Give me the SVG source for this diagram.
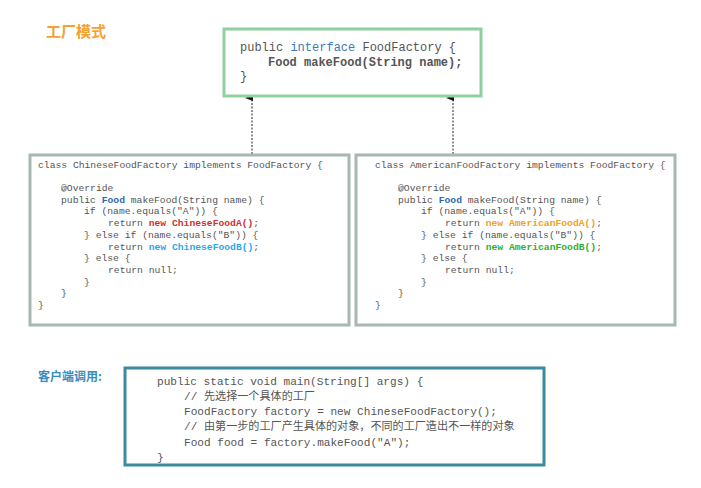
<svg xmlns="http://www.w3.org/2000/svg" width="701" height="488" viewBox="0 0 701 488">
<style>
.m{font-family:"Liberation Mono","Noto Sans CJK SC",monospace;fill:#555}
.s{font-size:9.7px}
.b{font-weight:bold}
.cj{font-family:"Noto Sans CJK SC",sans-serif;font-weight:bold}
</style>
<defs><marker id="ar" markerWidth="8" markerHeight="8" refX="4" refY="7" orient="auto" markerUnits="userSpaceOnUse"><path d="M1,8 L4,0 L7,8 Z" fill="#111"/></marker></defs>
<rect width="701" height="488" fill="#fff"/>
<text x="46" y="37" class="cj" font-size="15" fill="#f7a030">工厂模式</text>
<text x="38" y="381" class="cj" font-size="12" fill="#3a8cc0">客户端调用:</text>
<g id="connectors" stroke="#222" stroke-width="1" stroke-dasharray="2,1.5">
<line x1="252" y1="154" x2="252" y2="98" marker-end="url(#ar)"/>
<line x1="453" y1="154" x2="453" y2="98" marker-end="url(#ar)"/>
</g>
<g id="interface">
<rect x="224" y="29" width="257" height="67" fill="#fff" stroke="#8fd19e" stroke-width="3"/>
<text class="m" font-size="12" x="240" y="51">public <tspan fill="#3a7ab8">interface</tspan> FoodFactory {</text>
<text class="m b" font-size="12" x="268" y="66" fill="#e53030">Food makeFood(String name);</text>
<text class="m" font-size="12" x="240" y="80">}</text>
</g>
<g id="chinese">
<rect x="30" y="155" width="319" height="170" fill="#fff" stroke="#a7b8b4" stroke-width="3"/>
<g class="m s">
<text x="38" y="168">class ChineseFoodFactory implements FoodFactory {</text>
<text x="61" y="191">@Override</text>
<text x="61" y="203">public <tspan fill="#2a6ab0" font-weight="bold">Food</tspan> makeFood(String name) {</text>
<text x="84" y="214">if (name.equals("A")) {</text>
<text x="108" y="226">return <tspan fill="#d03030" font-weight="bold">new ChineseFoodA()</tspan>;</text>
<text x="84" y="238">} else if (name.equals("B")) {</text>
<text x="108" y="250">return <tspan fill="#2aa8f0" font-weight="bold">new ChineseFoodB()</tspan>;</text>
<text x="84" y="261">} else {</text>
<text x="108" y="273">return null;</text>
<text x="84" y="285">}</text>
<text x="61" y="296">}</text>
<text x="38" y="308">}</text>
</g>
</g>
<g id="american">
<rect x="356" y="155" width="319" height="170" fill="#fff" stroke="#a7b8b4" stroke-width="3"/>
<g class="m s">
<text x="375" y="168">class AmericanFoodFactory implements FoodFactory {</text>
<text x="398" y="191">@Override</text>
<text x="398" y="203">public <tspan fill="#2a6ab0" font-weight="bold">Food</tspan> makeFood(String name) {</text>
<text x="421" y="214">if (name.equals("A")) {</text>
<text x="445" y="226">return <tspan fill="#f5a020" font-weight="bold">new AmericanFoodA()</tspan>;</text>
<text x="421" y="238">} else if (name.equals("B")) {</text>
<text x="445" y="250">return <tspan fill="#30b030" font-weight="bold">new AmericanFoodB()</tspan>;</text>
<text x="421" y="261">} else {</text>
<text x="445" y="273">return null;</text>
<text x="421" y="285">}</text>
<text x="398" y="296">}</text>
<text x="375" y="308">}</text>
</g>
</g>
<g id="client">
<rect x="125" y="368" width="419" height="97" fill="#fff" stroke="#3a8aa0" stroke-width="3"/>
<g class="m" font-size="11.1">
<text x="157" y="385">public static void main(String[] args) {</text>
<text x="184" y="400">// 先选择一个具体的工厂</text>
<text x="184" y="415">FoodFactory factory = new ChineseFoodFactory();</text>
<text x="184" y="430">// 由第一步的工厂产生具体的对象，不同的工厂造出不一样的对象</text>
<text x="184" y="446">Food food = factory.makeFood("A");</text>
<text x="157" y="461">}</text>
</g>
</g>
</svg>
